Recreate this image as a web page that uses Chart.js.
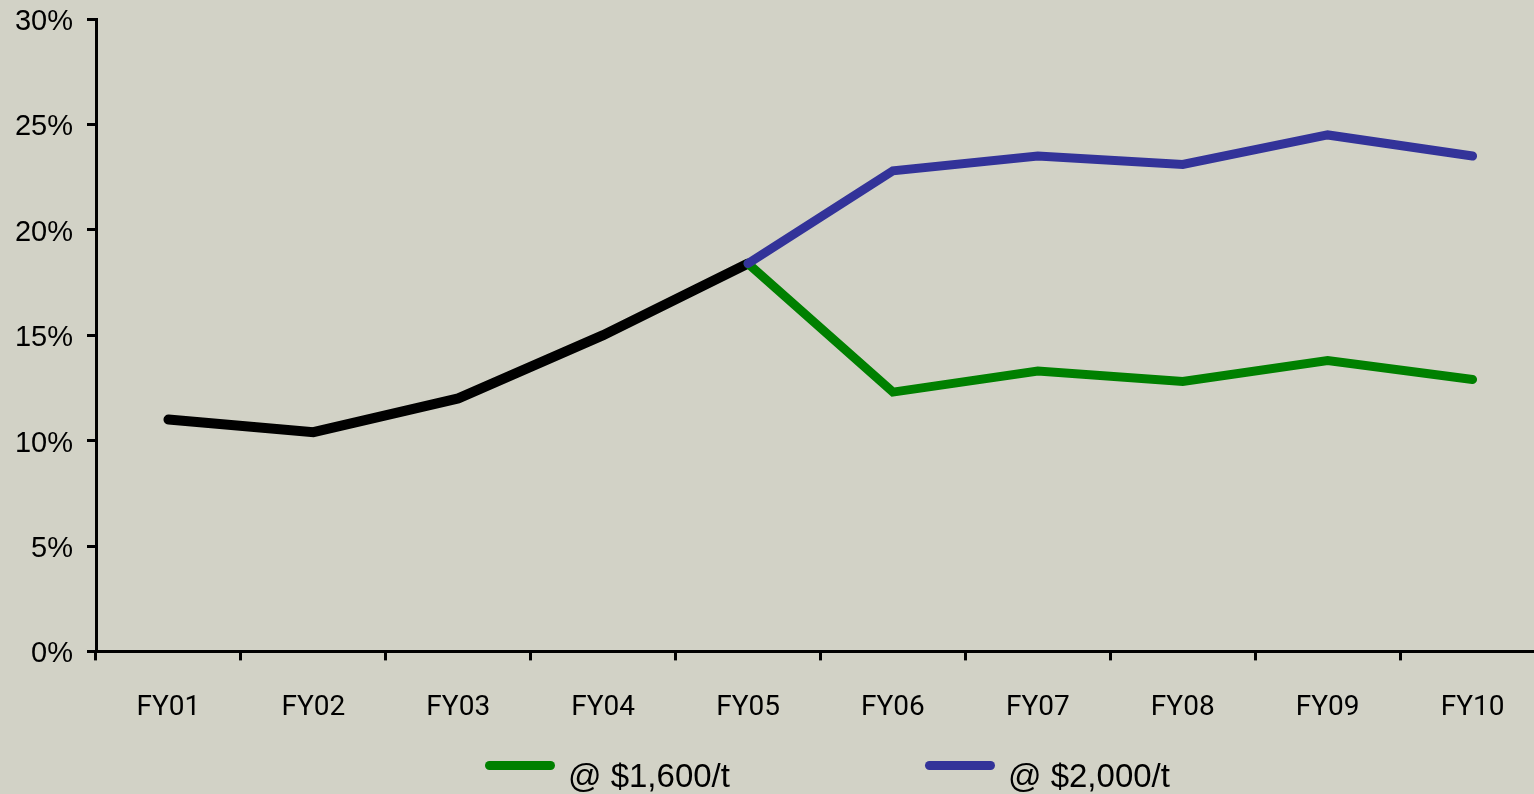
<!DOCTYPE html>
<html>
<head>
<meta charset="utf-8">
<script src="https://cdn.jsdelivr.net/npm/chart.js@4.4.0/dist/chart.umd.min.js"></script>
<style>
    html, body { margin: 0; padding: 0; background: #D2D2C6; overflow: hidden; }
    #wrap { position: relative; width: 1545px; height: 794px; }
    #myChart { position: absolute; left: 0; top: 0; }
    .swatch { position: absolute; height: 9px; border-radius: 4.5px; }
    .legtext { position: absolute; font-family: "Liberation Sans", Arial, sans-serif; font-size: 33px; line-height: 33px; color: #000; white-space: nowrap; }
</style>
</head>
<body>
<div id="wrap">
    <canvas id="myChart" width="1545" height="794"></canvas>
    <div id="legend"></div>
</div>
<script>
const categories = ['FY01', 'FY02', 'FY03', 'FY04', 'FY05', 'FY06', 'FY07', 'FY08', 'FY09', 'FY10'];
const historical = [11.0, 10.4, 12.0, 15.0, 18.4, null, null, null, null, null];
const at1600 = [null, null, null, null, 18.4, 12.3, 13.3, 12.8, 13.8, 12.9];
const at2000 = [null, null, null, null, 18.4, 22.8, 23.5, 23.1, 24.5, 23.5];

// legend items, in the order shown under the chart
const legendItems = [
    {label: '@ $1,600/t', color: '#008000', left: 485},
    {label: '@ $2,000/t', color: '#333399', left: 925}
];

function buildLegend() {
    let legend = document.getElementById('legend');
    legendItems.forEach(item => {
        let sw = document.createElement('div');
        sw.className = 'swatch';
        sw.style.left = item.left + 'px';
        sw.style.top = '761px';
        sw.style.width = '70px';
        sw.style.background = item.color;
        legend.appendChild(sw);
        let tx = document.createElement('div');
        tx.className = 'legtext';
        tx.style.left = (item.left + 83) + 'px';
        tx.style.top = '759px';
        tx.textContent = item.label;
        legend.appendChild(tx);
    });
}

function loadDiagram() {
    const data = {
        labels: categories,
        datasets: [{
            label: '@ $2,000/t',
            data: at2000,
            borderColor: '#333399',
            borderWidth: 9,
            borderCapStyle: 'round',
            pointRadius: 0,
            fill: false,
            tension: 0
        }, {
            label: '@ $1,600/t',
            data: at1600,
            borderColor: '#008000',
            borderWidth: 9,
            borderCapStyle: 'round',
            pointRadius: 0,
            fill: false,
            tension: 0
        }, {
            label: 'Actual',
            data: historical,
            borderColor: '#000000',
            borderWidth: 10,
            borderCapStyle: 'round',
            pointRadius: 0,
            fill: false,
            tension: 0
        }]
    };
    const ctx = document.getElementById('myChart').getContext('2d');
    new Chart(ctx, {
        type: 'line',
        data: data,
        options: {
            responsive: false,
            animation: false,
            layout: {padding: {top: 19, right: 0, bottom: 38, left: 0}},
            plugins: {
                legend: {display: false},
                tooltip: {enabled: false}
            },
            scales: {
                x: {
                    offset: true,
                    border: {display: true, color: '#000', width: 3},
                    grid: {offset: true, drawOnChartArea: false, drawTicks: true, tickLength: 9, color: '#000', lineWidth: 3},
                    ticks: {
                        color: '#000',
                        padding: 31,
                        maxRotation: 0,
                        autoSkip: false,
                        font: {family: 'Roboto, "Liberation Sans", sans-serif', size: 28}
                    }
                },
                y: {
                    min: 0,
                    max: 30,
                    afterFit: function (scale) {
                        scale.width = 96;
                        scale.paddingTop = 0;
                        scale.paddingBottom = 0;
                    },
                    border: {display: true, color: '#000', width: 3},
                    grid: {drawOnChartArea: false, drawTicks: true, tickLength: 9, color: '#000', lineWidth: 3},
                    ticks: {
                        stepSize: 5,
                        color: '#000',
                        padding: 14,
                        labelOffset: 3,
                        font: {family: '"Liberation Sans", Arial, sans-serif', size: 29},
                        callback: v => v + '%'
                    }
                }
            }
        }
    });
}

buildLegend();
loadDiagram();
</script>
</body>
</html>
